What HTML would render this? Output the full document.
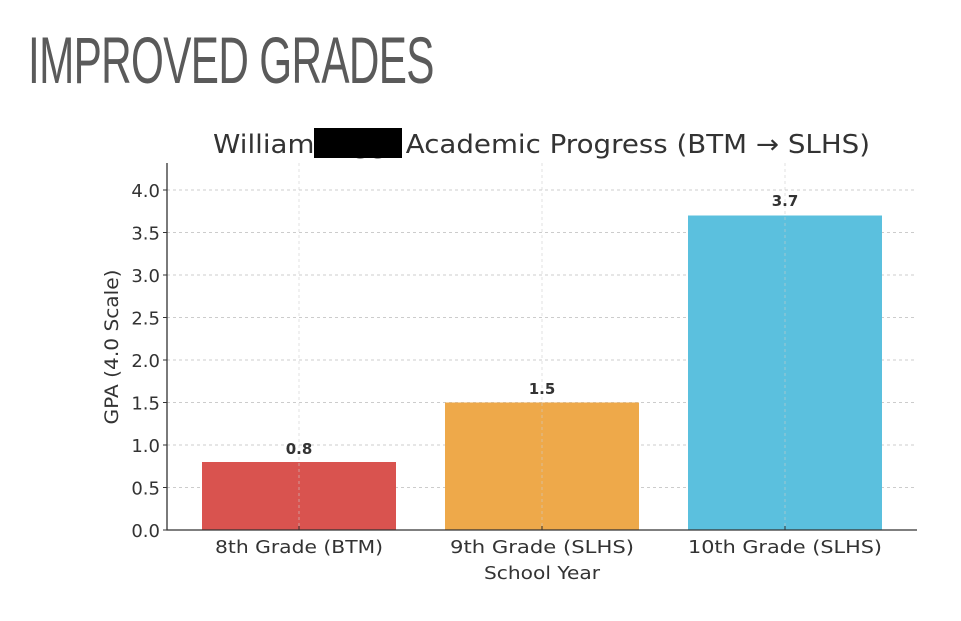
<!DOCTYPE html>
<html><head><meta charset="utf-8"><style>
body{margin:0;background:#fff;width:961px;height:621px;overflow:hidden}
.h{position:absolute;left:28px;top:22px;font-family:"Liberation Sans Narrow","Liberation Sans",sans-serif;font-size:66px;color:#5a5a5a;transform:scaleX(0.64);transform-origin:left top;white-space:nowrap;letter-spacing:-1px}
</style></head><body>
<div class="h">IMPROVED GRADES</div>
<svg width="961" height="621" style="position:absolute;left:0;top:0" font-family="DejaVu Sans, sans-serif" fill="#333">
<g stroke="#ccc" stroke-dasharray="3,3" stroke-width="1">
<line x1="167" x2="917" y1="190" y2="190"/><line x1="167" x2="917" y1="232.5" y2="232.5"/>
<line x1="167" x2="917" y1="275" y2="275"/><line x1="167" x2="917" y1="317.5" y2="317.5"/>
<line x1="167" x2="917" y1="360" y2="360"/><line x1="167" x2="917" y1="402.5" y2="402.5"/>
<line x1="167" x2="917" y1="445" y2="445"/><line x1="167" x2="917" y1="487.5" y2="487.5"/>
</g>
<rect x="202" y="462" width="194" height="68" fill="#d9534f"/>
<rect x="445" y="402.5" width="194" height="127.5" fill="#eea94a"/>
<rect x="688" y="215.5" width="194" height="314.5" fill="#5bc0de"/>
<g stroke="#ccc" stroke-dasharray="3,3" stroke-opacity="0.6"><line x1="299" x2="299" y1="163" y2="530"/><line x1="542" x2="542" y1="163" y2="530"/><line x1="785" x2="785" y1="163" y2="530"/></g>
<path d="M167 163V530H917" fill="none" stroke="#333" stroke-width="1.3"/>
<g stroke="#333"><line x1="163" x2="167" y1="190" y2="190"/><line x1="163" x2="167" y1="232.5" y2="232.5"/><line x1="163" x2="167" y1="275" y2="275"/><line x1="163" x2="167" y1="317.5" y2="317.5"/><line x1="163" x2="167" y1="360" y2="360"/><line x1="163" x2="167" y1="402.5" y2="402.5"/><line x1="163" x2="167" y1="445" y2="445"/><line x1="163" x2="167" y1="487.5" y2="487.5"/><line x1="163" x2="167" y1="530" y2="530"/>
<line x1="299" x2="299" y1="530" y2="526"/><line x1="542" x2="542" y1="530" y2="526"/><line x1="785" x2="785" y1="530" y2="526"/></g>
<g font-size="18" text-anchor="end"><text x="160" y="197">4.0</text><text x="160" y="239.5">3.5</text><text x="160" y="282">3.0</text><text x="160" y="324.5">2.5</text><text x="160" y="367">2.0</text><text x="160" y="409.5">1.5</text><text x="160" y="452">1.0</text><text x="160" y="494.5">0.5</text><text x="160" y="537">0.0</text></g>
<g font-size="18" text-anchor="middle"><text x="299" y="553" textLength="168" lengthAdjust="spacingAndGlyphs">8th Grade (BTM)</text><text x="542" y="553" textLength="184" lengthAdjust="spacingAndGlyphs">9th Grade (SLHS)</text><text x="785" y="553" textLength="194" lengthAdjust="spacingAndGlyphs">10th Grade (SLHS)</text><text x="542" y="579" textLength="116" lengthAdjust="spacingAndGlyphs">School Year</text></g>
<g font-size="15" font-weight="bold" text-anchor="middle"><text x="299" y="454">0.8</text><text x="542" y="394">1.5</text><text x="785" y="206">3.7</text></g>
<text transform="translate(118,347) rotate(-90)" font-size="19" text-anchor="middle" textLength="155" lengthAdjust="spacingAndGlyphs">GPA (4.0 Scale)</text>
<text x="213" y="153" font-size="26" textLength="657" lengthAdjust="spacingAndGlyphs">William Tagg: Academic Progress (BTM → SLHS)</text>
<rect x="314" y="128" width="88" height="30" fill="#000"/>
</svg>
</body></html>
